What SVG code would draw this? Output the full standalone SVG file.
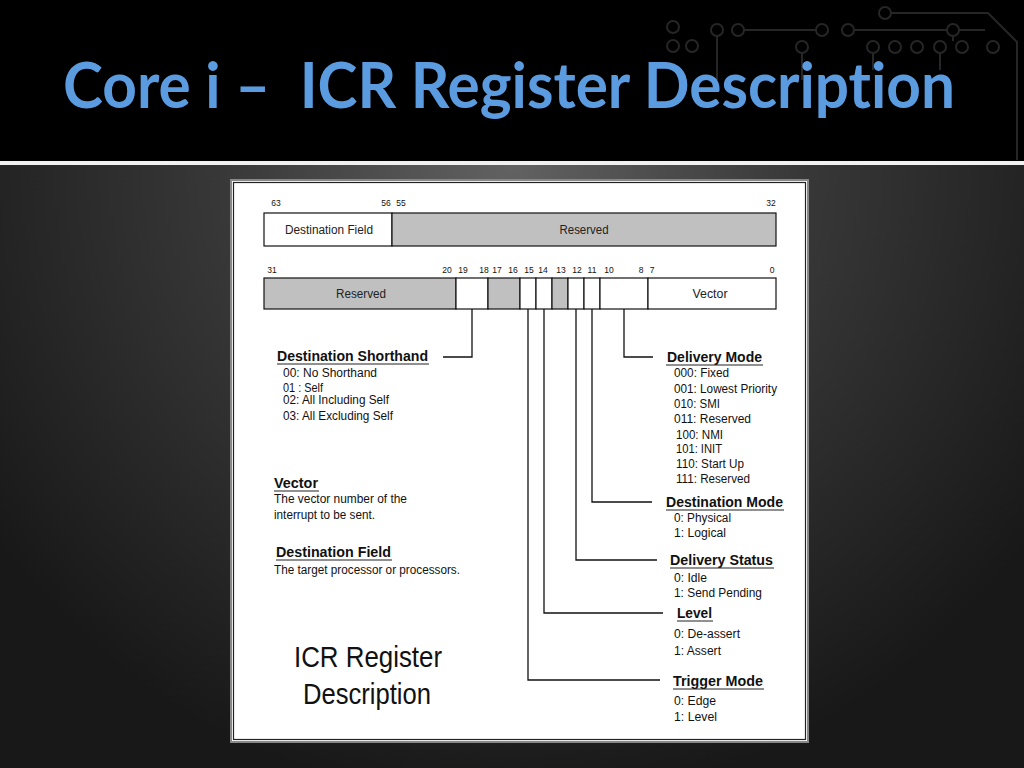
<svg xmlns="http://www.w3.org/2000/svg" width="1024" height="768" viewBox="0 0 1024 768">
<defs>
<radialGradient id="bg" gradientUnits="userSpaceOnUse" cx="512" cy="165" r="640">
<stop offset="0" stop-color="#626262"/>
<stop offset="0.45" stop-color="#383838"/>
<stop offset="1" stop-color="#181818"/>
</radialGradient>
<style>
.t{font-family:"Liberation Sans",Arial,sans-serif;font-size:12px;fill:#111}
.h{font-family:"Liberation Sans",Arial,sans-serif;font-size:14px;font-weight:bold;fill:#111}
.b{font-family:"Liberation Sans",Arial,sans-serif;font-size:8.5px;fill:#111;text-anchor:middle}
.c{font-family:"Liberation Sans",Arial,sans-serif;font-size:12.5px;fill:#222;text-anchor:middle}
.cell{stroke:#111;stroke-width:1.2}
.w{fill:#fff}
.g{fill:#c0c0c0}
.ul{stroke:#222;stroke-width:1.2}
.con{fill:none;stroke:#111;stroke-width:1.3}
.cir{fill:none;stroke:#262626;stroke-width:2}
</style>
</defs>

<!-- background -->
<rect x="0" y="0" width="1024" height="768" fill="url(#bg)"/>
<rect x="0" y="0" width="1024" height="161" fill="#000"/>
<rect x="0" y="161" width="1024" height="4" fill="#f0f0f0"/>

<!-- circuit decoration -->
<g id="circuit" class="cir">
<path d="M891 13 H988 L1017 42 V160"/>
<circle cx="885" cy="13" r="6"/>
<path d="M744 30 H816 M854 30 H947 M959 30 H985"/>
<circle cx="673" cy="27" r="6"/><circle cx="717" cy="30" r="6"/><circle cx="738" cy="30" r="6"/>
<circle cx="822" cy="30" r="6"/><circle cx="848" cy="30" r="6"/><circle cx="953" cy="30" r="6"/>
<circle cx="673" cy="46" r="6"/><circle cx="692" cy="46" r="6"/><circle cx="802" cy="47" r="6"/>
<circle cx="873" cy="47" r="6"/><circle cx="895" cy="47" r="6"/><circle cx="917" cy="47" r="6"/>
<circle cx="940" cy="47" r="6"/><circle cx="962" cy="47" r="6"/><circle cx="993" cy="47" r="6"/>
<path d="M717 36 V80 M802 53 V80 M873 53 V70 M940 53 V70 M953 36 V41"/>
</g>

<!-- title -->
<text x="63" y="108" xml:space="preserve" font-family="Lato,'Open Sans',sans-serif" font-weight="bold" font-size="64" fill="#5b9be0" style="font-variant-ligatures:none" textLength="892" lengthAdjust="spacingAndGlyphs">Core i –  ICR Register Description</text>

<!-- frame -->
<rect x="231" y="180" width="577" height="562" fill="#fff" stroke="#888" stroke-width="2"/>
<rect x="233.5" y="182.5" width="572" height="557" fill="none" stroke="#222" stroke-width="1.2"/>

<!-- register upper 63..32 -->
<g id="reg-high">
<text class="b" x="276" y="206">63</text>
<text class="b" x="386" y="206">56</text>
<text class="b" x="401" y="206">55</text>
<text class="b" x="771" y="206">32</text>
<rect class="cell w" x="264" y="213" width="128" height="33"/>
<rect class="cell g" x="392" y="213" width="384" height="33"/>
<text class="c" x="329" y="234" textLength="88" lengthAdjust="spacingAndGlyphs">Destination Field</text>
<text class="c" x="584" y="234" textLength="49" lengthAdjust="spacingAndGlyphs">Reserved</text>
</g>

<!-- register lower 31..0 -->
<g id="reg-low">
<text class="b" x="272" y="273">31</text>
<text class="b" x="447" y="273">20</text>
<text class="b" x="463" y="273">19</text>
<text class="b" x="484" y="273">18</text>
<text class="b" x="497" y="273">17</text>
<text class="b" x="513" y="273">16</text>
<text class="b" x="529" y="273">15</text>
<text class="b" x="543" y="273">14</text>
<text class="b" x="561" y="273">13</text>
<text class="b" x="577" y="273">12</text>
<text class="b" x="592" y="273">11</text>
<text class="b" x="609" y="273">10</text>
<text class="b" x="641" y="273">8</text>
<text class="b" x="652" y="273">7</text>
<text class="b" x="772" y="273">0</text>
<rect class="cell g" x="264" y="278" width="192" height="31"/>
<rect class="cell w" x="456" y="278" width="32" height="31"/>
<rect class="cell g" x="488" y="278" width="32" height="31"/>
<rect class="cell w" x="520" y="278" width="16" height="31"/>
<rect class="cell w" x="536" y="278" width="16" height="31"/>
<rect class="cell g" x="552" y="278" width="16" height="31"/>
<rect class="cell w" x="568" y="278" width="16" height="31"/>
<rect class="cell w" x="584" y="278" width="16" height="31"/>
<rect class="cell w" x="600" y="278" width="48" height="31"/>
<rect class="cell w" x="648" y="278" width="128" height="31"/>
<text class="c" x="361" y="298" textLength="50" lengthAdjust="spacingAndGlyphs">Reserved</text>
<text class="c" x="710" y="298" textLength="35" lengthAdjust="spacingAndGlyphs">Vector</text>
</g>

<!-- connectors -->
<g id="connectors" class="con">
<path d="M472 309 V357 H443"/>
<path d="M624 309 V357 H653"/>
<path d="M592 309 V502 H652"/>
<path d="M576 309 V560 H657"/>
<path d="M544 309 V613 H663"/>
<path d="M528 309 V680 H660"/>
</g>

<!-- Destination Shorthand -->
<g id="dest-shorthand">
<text class="h" x="277" y="361" textLength="151" lengthAdjust="spacingAndGlyphs">Destination Shorthand</text>
<line class="ul" x1="277" y1="364" x2="429" y2="364"/>
<text class="t" x="283" y="377" textLength="94" lengthAdjust="spacingAndGlyphs">00: No Shorthand</text>
<text class="t" x="283" y="392" textLength="40" lengthAdjust="spacingAndGlyphs">01 : Self</text>
<text class="t" x="283" y="404" textLength="106" lengthAdjust="spacingAndGlyphs">02: All Including Self</text>
<text class="t" x="283" y="420" textLength="110" lengthAdjust="spacingAndGlyphs">03: All Excluding Self</text>
</g>

<!-- Vector -->
<g id="vector-desc">
<text class="h" x="274" y="488" textLength="44" lengthAdjust="spacingAndGlyphs">Vector</text>
<line class="ul" x1="274" y1="491" x2="319" y2="491"/>
<text class="t" x="274" y="503" textLength="133" lengthAdjust="spacingAndGlyphs">The vector number of the</text>
<text class="t" x="274" y="519" textLength="101" lengthAdjust="spacingAndGlyphs">interrupt to be sent.</text>
</g>

<!-- Destination Field -->
<g id="dest-field-desc">
<text class="h" x="276" y="557" textLength="115" lengthAdjust="spacingAndGlyphs">Destination Field</text>
<line class="ul" x1="276" y1="560" x2="392" y2="560"/>
<text class="t" x="274" y="574" textLength="186" lengthAdjust="spacingAndGlyphs">The target processor or processors.</text>
</g>

<!-- ICR Register Description caption -->
<g id="caption">
<text font-family="'Liberation Sans',Arial,sans-serif" font-size="29" fill="#111" x="368" y="667" text-anchor="middle" textLength="148" lengthAdjust="spacingAndGlyphs">ICR Register</text>
<text font-family="'Liberation Sans',Arial,sans-serif" font-size="29" fill="#111" x="367" y="704" text-anchor="middle" textLength="128" lengthAdjust="spacingAndGlyphs">Description</text>
</g>

<!-- Delivery Mode -->
<g id="delivery-mode">
<text class="h" x="667" y="362" textLength="95" lengthAdjust="spacingAndGlyphs">Delivery Mode</text>
<line class="ul" x1="666" y1="365" x2="763" y2="365"/>
<text class="t" x="674" y="377" textLength="55" lengthAdjust="spacingAndGlyphs">000: Fixed</text>
<text class="t" x="674" y="393" textLength="103" lengthAdjust="spacingAndGlyphs">001: Lowest Priority</text>
<text class="t" x="674" y="408" textLength="46" lengthAdjust="spacingAndGlyphs">010: SMI</text>
<text class="t" x="674" y="423" textLength="77" lengthAdjust="spacingAndGlyphs">011: Reserved</text>
<text class="t" x="676" y="439" textLength="47" lengthAdjust="spacingAndGlyphs">100: NMI</text>
<text class="t" x="676" y="453" textLength="46" lengthAdjust="spacingAndGlyphs">101: INIT</text>
<text class="t" x="676" y="468" textLength="68" lengthAdjust="spacingAndGlyphs">110: Start Up</text>
<text class="t" x="676" y="483" textLength="74" lengthAdjust="spacingAndGlyphs">111: Reserved</text>
</g>

<!-- Destination Mode -->
<g id="destination-mode">
<text class="h" x="666" y="507" textLength="117" lengthAdjust="spacingAndGlyphs">Destination Mode</text>
<line class="ul" x1="666" y1="510" x2="784" y2="510"/>
<text class="t" x="674" y="522" textLength="57" lengthAdjust="spacingAndGlyphs">0: Physical</text>
<text class="t" x="674" y="537" textLength="52" lengthAdjust="spacingAndGlyphs">1: Logical</text>
</g>

<!-- Delivery Status -->
<g id="delivery-status">
<text class="h" x="670" y="565" textLength="103" lengthAdjust="spacingAndGlyphs">Delivery Status</text>
<line class="ul" x1="670" y1="568" x2="774" y2="568"/>
<text class="t" x="674" y="582" textLength="33" lengthAdjust="spacingAndGlyphs">0: Idle</text>
<text class="t" x="674" y="597" textLength="88" lengthAdjust="spacingAndGlyphs">1: Send Pending</text>
</g>

<!-- Level -->
<g id="level">
<text class="h" x="677" y="618" textLength="35" lengthAdjust="spacingAndGlyphs">Level</text>
<line class="ul" x1="677" y1="621" x2="713" y2="621"/>
<text class="t" x="674" y="638" textLength="66" lengthAdjust="spacingAndGlyphs">0: De-assert</text>
<text class="t" x="674" y="655" textLength="47" lengthAdjust="spacingAndGlyphs">1: Assert</text>
</g>

<!-- Trigger Mode -->
<g id="trigger-mode">
<text class="h" x="673" y="686" textLength="90" lengthAdjust="spacingAndGlyphs">Trigger Mode</text>
<line class="ul" x1="673" y1="689" x2="764" y2="689"/>
<text class="t" x="674" y="705" textLength="42" lengthAdjust="spacingAndGlyphs">0: Edge</text>
<text class="t" x="674" y="721" textLength="43" lengthAdjust="spacingAndGlyphs">1: Level</text>
</g>
</svg>
